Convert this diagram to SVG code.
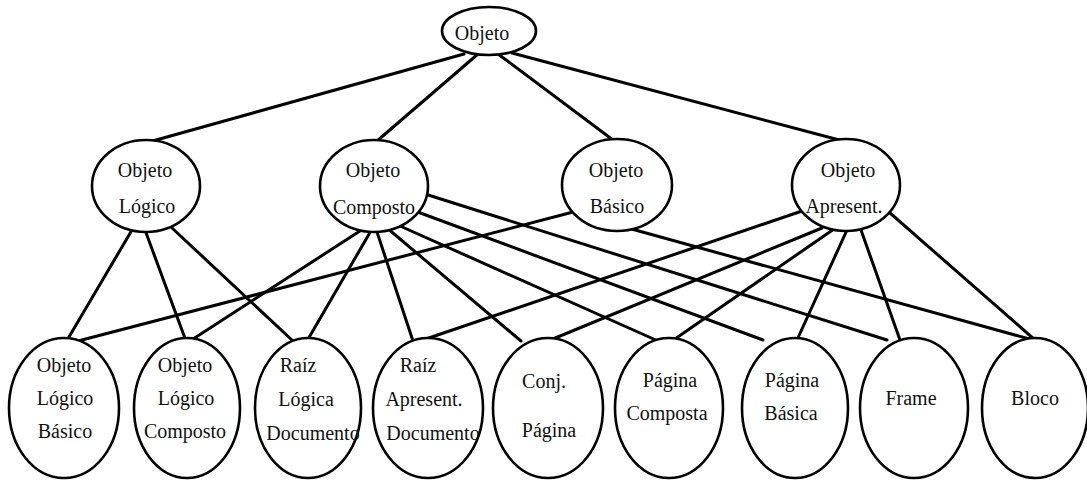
<svg xmlns="http://www.w3.org/2000/svg" width="1087" height="481" viewBox="0 0 1087 481">
  <style>
    .edge { stroke: #000; stroke-width: 3; stroke-linecap: round; fill: none; }
    .node ellipse { fill: #fff; stroke: #000; stroke-width: 2.6; }
    .node text { font-family: "Liberation Serif", "Times New Roman", serif; font-size: 20px; fill: #111; text-anchor: middle; }
  </style>
  <rect width="1087" height="481" fill="#fff"/>

  <!-- connectors: drawn first so the node fills sit on top -->
  <g id="connectors" class="edge">
    <!-- Objeto -->
    <line x1="464" y1="54" x2="149" y2="142"/>
    <line x1="478" y1="54" x2="377" y2="141"/>
    <line x1="498" y1="54" x2="613" y2="140"/>
    <line x1="512" y1="53" x2="843" y2="141"/>
    <!-- Objeto Lógico -->
    <line x1="132" y1="230" x2="66" y2="342"/>
    <line x1="145" y1="230" x2="186" y2="341"/>
    <line x1="172" y1="228" x2="293" y2="341"/>
    <!-- Objeto Composto -->
    <line x1="363" y1="229" x2="190" y2="341"/>
    <line x1="372" y1="229" x2="307" y2="341"/>
    <line x1="376" y1="229" x2="413" y2="341"/>
    <line x1="387" y1="228" x2="521" y2="341"/>
    <line x1="400" y1="226" x2="658" y2="341"/>
    <line x1="415" y1="211" x2="763" y2="340"/>
    <line x1="425" y1="194" x2="887" y2="340"/>
    <!-- Objeto Básico -->
    <line x1="577" y1="211" x2="78" y2="341"/>
    <line x1="628" y1="228" x2="1033" y2="340"/>
    <!-- Objeto Apresent. -->
    <line x1="802" y1="211" x2="420" y2="341"/>
    <line x1="822" y1="228" x2="548" y2="341"/>
    <line x1="834" y1="229" x2="672" y2="341"/>
    <line x1="847" y1="230" x2="797" y2="340"/>
    <line x1="861" y1="230" x2="900" y2="340"/>
    <line x1="890" y1="213" x2="1035" y2="340"/>
  </g>

  <!-- root -->
  <g id="objeto" class="node">
    <ellipse cx="489" cy="31" rx="47" ry="24"/>
    <text x="482" y="40">Objeto</text>
  </g>

  <!-- second level -->
  <g id="objeto-logico" class="node">
    <ellipse cx="146" cy="186" rx="54" ry="46"/>
    <text x="145" y="177">Objeto</text>
    <text x="147" y="213">Lógico</text>
  </g>
  <g id="objeto-composto" class="node">
    <ellipse cx="374" cy="186" rx="54" ry="46"/>
    <text x="373" y="177">Objeto</text>
    <text x="374" y="214">Composto</text>
  </g>
  <g id="objeto-basico" class="node">
    <ellipse cx="617" cy="185" rx="55" ry="46"/>
    <text x="616" y="177">Objeto</text>
    <text x="617" y="213">Básico</text>
  </g>
  <g id="objeto-apresent" class="node">
    <ellipse cx="846" cy="185" rx="54" ry="46"/>
    <text x="848" y="177">Objeto</text>
    <text x="844" y="213">Apresent.</text>
  </g>

  <!-- third level -->
  <g id="objeto-logico-basico" class="node">
    <ellipse cx="64" cy="408" rx="55" ry="70"/>
    <text x="64" y="372">Objeto</text>
    <text x="65" y="405">Lógico</text>
    <text x="65" y="438">Básico</text>
  </g>
  <g id="objeto-logico-composto" class="node">
    <ellipse cx="187" cy="408" rx="53" ry="70"/>
    <text x="185" y="372">Objeto</text>
    <text x="186" y="405">Lógico</text>
    <text x="185" y="438">Composto</text>
  </g>
  <g id="raiz-logica-documento" class="node">
    <ellipse cx="308" cy="408" rx="53" ry="70"/>
    <text x="298" y="372">Raíz</text>
    <text x="306" y="406">Lógica</text>
    <text x="313" y="440">Documento</text>
  </g>
  <g id="raiz-apresent-documento" class="node">
    <ellipse cx="428" cy="408" rx="55" ry="70"/>
    <text x="418" y="372">Raíz</text>
    <text x="424" y="406">Apresent.</text>
    <text x="433" y="440">Documento</text>
  </g>
  <g id="conj-pagina" class="node">
    <ellipse cx="548" cy="408" rx="55" ry="70"/>
    <text x="544" y="388">Conj.</text>
    <text x="549" y="437">Página</text>
  </g>
  <g id="pagina-composta" class="node">
    <ellipse cx="669" cy="408" rx="54" ry="70"/>
    <text x="670" y="387">Página</text>
    <text x="667" y="420">Composta</text>
  </g>
  <g id="pagina-basica" class="node">
    <ellipse cx="795" cy="408" rx="53" ry="70"/>
    <text x="792" y="387">Página</text>
    <text x="791" y="420">Básica</text>
  </g>
  <g id="frame" class="node">
    <ellipse cx="914" cy="408" rx="54" ry="70"/>
    <text x="911" y="405">Frame</text>
  </g>
  <g id="bloco" class="node">
    <ellipse cx="1035" cy="408" rx="53" ry="70"/>
    <text x="1035" y="405">Bloco</text>
  </g>
</svg>
